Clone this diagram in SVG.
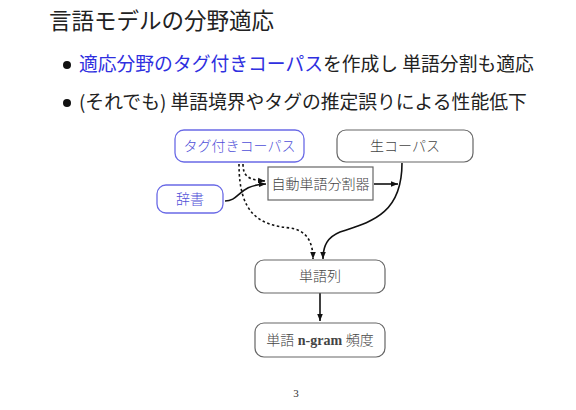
<svg xmlns="http://www.w3.org/2000/svg" width="576" height="410" viewBox="0 0 576 410">
<style>
.title{font-family:"Noto Sans CJK JP","Liberation Sans",sans-serif;font-size:22.5px;fill:#222}
.bul{font-family:"Noto Sans CJK JP","Liberation Sans",sans-serif;font-size:18.8px;fill:#222}
.blue{fill:#2f2fe0}
.lbl{font-family:"Liberation Serif","Noto Sans CJK JP",serif;font-size:14px;fill:#444;text-anchor:middle;font-weight:300}
.lblb{fill:#5050d8}
.box{fill:#fff;stroke:#666;stroke-width:1.2}
.boxb{fill:#fff;stroke:#6a6ae6;stroke-width:1.3}
.ln{fill:none;stroke:#111;stroke-width:1.6}
.dt{fill:none;stroke:#111;stroke-width:1.6;stroke-dasharray:2.5 2.5}
</style>
<defs>
<marker id="ah" viewBox="0 0 10 10" refX="10" refY="5" markerWidth="7" markerHeight="7" orient="auto" markerUnits="userSpaceOnUse">
<path d="M0,1 L10,5 L0,9 z" fill="#111"/>
</marker>
</defs>
<text class="title" x="49" y="29">言語モデルの分野適応</text>
<circle cx="67" cy="65" r="4" fill="#111"/>
<text class="bul" x="79" y="71"><tspan class="blue">適応分野のタグ付きコーパス</tspan>を作成し 単語分割も適応</text>
<circle cx="67" cy="103" r="4" fill="#111"/>
<text class="bul" x="79" y="109">(それでも) 単語境界やタグの推定誤りによる性能低下</text>

<g id="connectors">
<path class="dt" d="M243,164 C243,176 248,180 265,181" marker-end="url(#ah)"/>
<path class="dt" d="M239,164 C239,215 260,225 290,228 C305,230 313,240 313,259" marker-end="url(#ah)"/>
<path class="ln" d="M225,201 C240,201 238,185 266,184" marker-end="url(#ah)"/>
<path class="ln" d="M374,184 L398,184" marker-end="url(#ah)"/>
<path class="ln" d="M402,163 C402,215 370,222 340,232 C328,237 323,245 323,259" marker-end="url(#ah)"/>
<path class="ln" d="M320,293 L320,321" marker-end="url(#ah)"/>
</g>

<g id="tagged"><rect class="boxb" x="175" y="130" width="129" height="32" rx="9"/><text class="lbl lblb" x="239.5" y="151">タグ付きコーパス</text></g>
<g id="raw"><rect class="box" x="337" y="130" width="136" height="32" rx="9"/><text class="lbl" x="405" y="151">生コーパス</text></g>
<g id="dict"><rect class="boxb" x="157" y="185" width="66" height="28" rx="9"/><text class="lbl lblb" x="190" y="204">辞書</text></g>
<g id="segmenter"><rect class="box" x="268" y="167" width="105" height="33"/><text class="lbl" x="320.5" y="189">自動単語分割器</text></g>
<g id="wordseq"><rect class="box" x="255" y="260" width="130" height="33" rx="9"/><text class="lbl" x="320" y="281">単語列</text></g>
<g id="ngram"><rect class="box" x="255" y="323" width="130" height="34" rx="9"/><text class="lbl" x="320" y="345">単語 <tspan font-weight="bold">n-gram</tspan> 頻度</text></g>
<text x="296" y="397" font-family="Liberation Serif,serif" font-size="11" fill="#333" text-anchor="middle">3</text>
</svg>
